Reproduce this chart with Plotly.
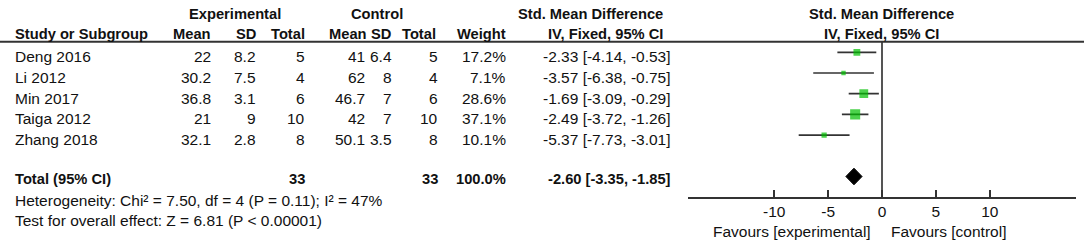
import plotly.graph_objects as go
import math

# ---------------- data ----------------
studies = ["Deng 2016", "Li 2012", "Min 2017", "Taiga 2012", "Zhang 2018"]
exp_mean = ["22", "30.2", "36.8", "21", "32.1"]
exp_sd = ["8.2", "7.5", "3.1", "9", "2.8"]
exp_total = [5, 4, 6, 10, 8]
ctl_mean = ["41", "62", "46.7", "42", "50.1"]
ctl_sd = ["6.4", "8", "7", "7", "3.5"]
ctl_total = [5, 4, 6, 10, 8]
weight = [17.2, 7.1, 28.6, 37.1, 10.1]
smd = [-2.33, -3.57, -1.69, -2.49, -5.37]
ci_lo = [-4.14, -6.38, -3.09, -3.72, -7.73]
ci_hi = [-0.53, -0.75, -0.29, -1.26, -3.01]

total_smd, total_lo, total_hi = -2.60, -3.35, -1.85
total_exp, total_ctl, total_weight = 33, 33, 100.0
heterogeneity = "Heterogeneity: Chi² = 7.50, df = 4 (P = 0.11); I² = 47%"
overall = "Test for overall effect: Z = 6.81 (P < 0.00001)"
tick_vals = [-10, -5, 0, 5, 10]
fav_left = "Favours [experimental]"
fav_right = "Favours [control]"

# ---------------- layout helpers ----------------
W, H = 1084, 244
ROW0, ROW_PX = 52.3, 20.7
TEXT_DY = 4.5
FONT = "Liberation Sans, Arial, sans-serif"
FS = 15.5     # regular text
FSB = 14.7    # bold text
TXT = "#111111"
LINE = "#333333"

def row_px(r):
    return ROW0 + ROW_PX * r

def py(p):
    return 1 - p / H

def r_of_px(p):
    return (p - ROW0) / ROW_PX

AXIS_PX, HEAD_PX = 196.7, 41.7
TOTAL_ROW = 6

fig = go.Figure()

# CI lines
xs, ys = [], []
for i in range(len(studies)):
    xs += [ci_lo[i], ci_hi[i], None]
    ys += [i, i, None]
fig.add_trace(go.Scatter(x=xs, y=ys, mode="lines",
                         line=dict(color=LINE, width=1.7), hoverinfo="skip"))
# squares
fig.add_trace(go.Scatter(x=smd, y=list(range(len(studies))), mode="markers",
                         marker=dict(symbol="square", color="#00BF00",
                                     size=[1.65 * math.sqrt(w) for w in weight],
                                     line=dict(width=0))))
# diamond
hh = 8.3 / ROW_PX
fig.add_trace(go.Scatter(x=[total_lo, total_smd, total_hi, total_smd, total_lo],
                         y=[TOTAL_ROW, TOTAL_ROW - hh, TOTAL_ROW, TOTAL_ROW + hh, TOTAL_ROW],
                         mode="lines", fill="toself", fillcolor="black",
                         line=dict(color="black", width=1)))

# ---------------- text ----------------
ann = []
def text(x, p, s, anchor="left", bold=False):
    ann.append(dict(x=x / W, y=py(p), xref="paper", yref="paper", text=(f"<b>{s}</b>" if bold else s),
                    showarrow=False, xanchor=anchor, yanchor="middle",
                    font=dict(family=FONT, size=(FSB if bold else FS), color=TXT)))

H1, H2 = 14, 34
text(235, H1, "Experimental", "center", True)
text(377, H1, "Control", "center", True)
text(665, H1, "Std. Mean Difference", "right", True)
text(881.7, H1, "Std. Mean Difference", "center", True)
text(12.7, H2, "Study or Subgroup", "left", True)
text(213, H2, "Mean", "right", True)
text(258, H2, "SD", "right", True)
text(307, H2, "Total", "right", True)
text(369, H2, "Mean", "right", True)
text(393, H2, "SD", "right", True)
text(438, H2, "Total", "right", True)
text(508, H2, "Weight", "right", True)
text(665, H2, "IV, Fixed, 95% CI", "right", True)
text(881.7, H2, "IV, Fixed, 95% CI", "center", True)

for i, s in enumerate(studies):
    p = row_px(i) + TEXT_DY
    text(12.7, p, s)
    text(213, p, exp_mean[i], "right")
    text(258, p, exp_sd[i], "right")
    text(307, p, str(exp_total[i]), "right")
    text(367, p, ctl_mean[i], "right")
    text(394, p, ctl_sd[i], "right")
    text(440, p, str(ctl_total[i]), "right")
    text(508, p, f"{weight[i]:.1f}%", "right")
    text(673, p, f"{smd[i]:.2f} [{ci_lo[i]:.2f}, {ci_hi[i]:.2f}]", "right")

pt = 179
text(12.7, pt, "Total (95% CI)", "left", True)
text(307, pt, str(total_exp), "right", True)
text(440, pt, str(total_ctl), "right", True)
text(508, pt, f"{total_weight:.1f}%", "right", True)
text(673, pt, f"{total_smd:.2f} [{total_lo:.2f}, {total_hi:.2f}]", "right", True)
text(12.7, 200, heterogeneity)
text(12.7, 220, overall)
text(873, 231.7, fav_left, "right")
text(889, 231.7, fav_right, "left")

fig.update_layout(
    width=W, height=H, margin=dict(l=0, r=0, t=0, b=0),
    paper_bgcolor="white", plot_bgcolor="white", showlegend=False,
    annotations=ann,
    shapes=[dict(type="line", xref="paper", yref="paper", x0=0, x1=1,
                 y0=py(HEAD_PX), y1=py(HEAD_PX), line=dict(color=LINE, width=2))],
    xaxis=dict(domain=[688 / W, 1076 / W], range=[-18, 18], tickvals=tick_vals,
               ticktext=[str(v) for v in tick_vals],
               ticks="inside", ticklen=7, tickwidth=1.5, tickcolor=LINE,
               showline=True, linecolor=LINE, linewidth=1.5,
               zeroline=True, zerolinecolor="#555555", zerolinewidth=1.5,
               showgrid=False, tickfont=dict(family=FONT, size=FS, color=TXT)),
    yaxis=dict(domain=[py(AXIS_PX), py(HEAD_PX)],
               range=[r_of_px(AXIS_PX), r_of_px(HEAD_PX)],
               showgrid=False, zeroline=False, showticklabels=False, ticks=""),
)
fig.write_html("out.html", config={"displayModeBar": False},
               post_script="document.body.style.margin='0';document.body.style.overflow='hidden';")
